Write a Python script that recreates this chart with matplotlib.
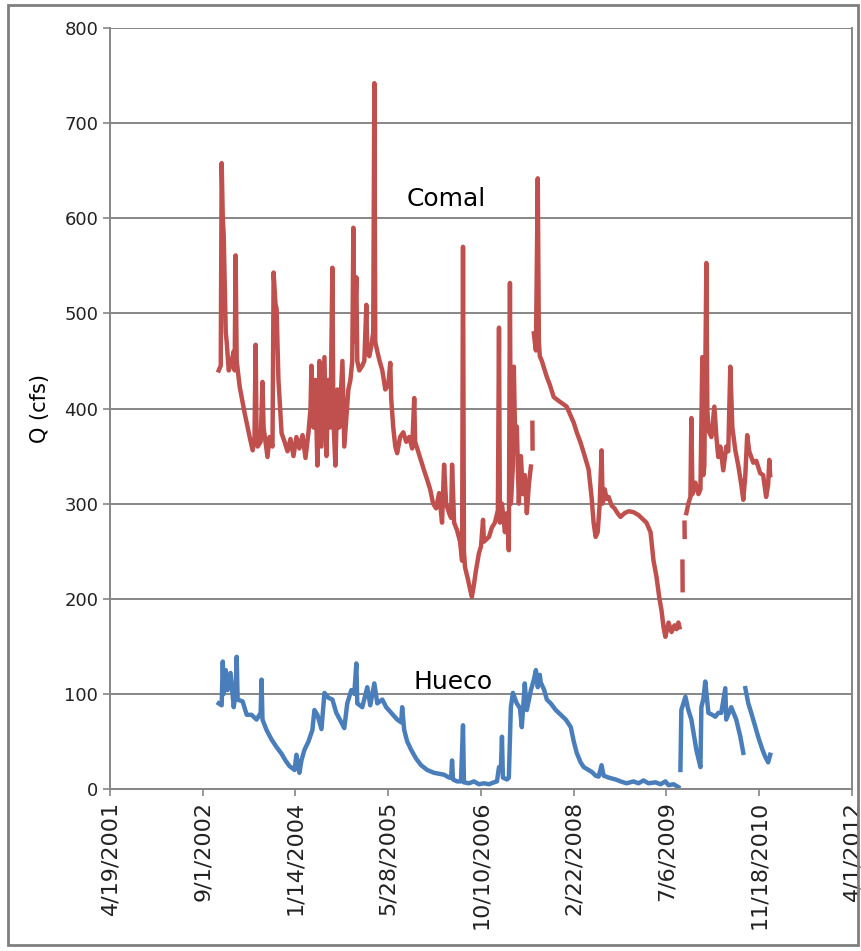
import numpy as np
import pandas as pd
import matplotlib
matplotlib.use("Agg")
import matplotlib.pyplot as plt
from matplotlib.patches import Rectangle

# dates are Excel serial day numbers (37000 = 4/19/2001), NaN marks a gap
comal_days = [
    37586, 37597, 37602, 37608, 37613, 37624, 37629, 37640, 37650, 37667,
    37672, 37677, 37683, 37699, 37726, 37753, 37769, 37779, 37785, 37790,
    37796, 37812, 37822, 37828, 37849, 37860, 37876, 37882, 37892, 37898,
    37908, 37925, 37941, 37957, 37973, 37989, 38005, 38021, 38038, 38054,
    38070, 38081, 38086, 38097, 38107, 38118, 38129, 38140, 38150, 38156,
    38167, 38177, 38188, 38199, 38204, 38215, 38226, 38236, 38253, 38263,
    38274, 38285, 38296, 38306, 38312, 38317, 38328, 38333, 38344, 38360,
    38371, 38382, 38387, 38398, 38408, 38419, 38425, 38430, 38441, 38452,
    38468, 38484, 38500, 38511, 38516, 38527, 38538, 38548, 38564, 38581,
    38597, 38613, 38629, 38640, 38645, 38661, 38677, 38693, 38710, 38726,
    38742, 38758, 38774, 38790, 38801, 38812, 38828, 38839, 38844, 38855,
    38871, 38887, 38898, 38903, 38908, 38914, 38930, 38941, 38951, 38962,
    38973, 38989, 39000, 39011, 39016, 39027, 39043, 39059, 39075, 39091,
    39097, 39102, 39113, 39129, 39140, 39150, 39156, 39161, 39172, 39177,
    39183, 39193, 39204, 39215, 39226, 39236, 39247, 39258, 39269, np.nan,
    39277, 39278, np.nan,
    39285, 39290, 39296, 39306, 39312, 39317, 39328, 39355, 39371, 39392,
    39419, 39441, 39462, 39484, 39500, 39516, 39537, 39559, 39580, 39597,
    39607, 39618, 39629, 39640, 39650, 39656, 39667, 39677, 39688, 39704,
    39720, 39736, 39752, 39774, 39796, 39822, 39849, 39876, 39892, 39914,
    39930, 39946, 39962, 39973, 39984, 39994, 40011, 40027, 40043, 40054,
    40064, 40070, np.nan,
    40086, 40087, np.nan,
    40097, 40098, np.nan,
    40107, 40118, 40129, 40134, 40140, 40156, 40172, 40183, 40193, 40199,
    40204, 40215, 40220, 40226, 40242, 40258, 40269, 40279, 40290, 40306,
    40322, 40333, 40344, 40355, 40371, 40387, 40403, 40414, 40425, 40435,
    40446, 40468, 40484, 40505, 40521, 40537, 40548, 40554, 40559,
]
comal_q = [
    440, 445, 658, 600, 582, 480, 470, 440, 445, 460,
    440, 561, 450, 423, 395, 370, 356, 370, 467, 375,
    360, 365, 428, 380, 349, 370, 360, 543, 510, 505,
    430, 374, 365, 355, 368, 350, 370, 358, 372, 348,
    375, 400, 445, 380, 430, 340, 450, 360, 420, 454,
    350, 430, 380, 548, 390, 340, 420, 380, 450, 360,
    390, 420, 430, 450, 590, 470, 538, 450, 440, 445,
    450, 509, 460, 455, 465, 480, 742, 470, 460, 451,
    440, 420, 425, 448, 410, 380, 360, 353, 370, 375,
    365, 370, 358, 411, 365, 355, 345, 335, 325, 315,
    300, 295, 311, 280, 341, 300, 290, 285, 341, 280,
    272, 260, 240, 570, 250, 233, 220, 210, 202, 215,
    230, 248, 255, 283, 260, 262, 265, 275, 280, 293,
    485, 280, 300, 270, 290, 251, 532, 300, 340, 444,
    380, 381, 300, 350, 310, 330, 290, 320, 339, np.nan,
    385, 358, np.nan,
    479, 470, 461, 642, 470, 455, 450, 433, 425, 412,
    408, 405, 402, 392, 385, 375, 364, 350, 336, 305,
    280, 265, 270, 300, 356, 300, 315, 305, 307, 298,
    295, 290, 286, 290, 292, 291, 288, 283, 280, 270,
    240, 223, 200, 188, 170, 160, 175, 165, 172, 168,
    175, 170, np.nan,
    239, 209, np.nan,
    280, 265, np.nan,
    290, 300, 307, 390, 310, 322, 310, 315, 454, 330,
    340, 553, 400, 377, 370, 402, 370, 349, 360, 335,
    360, 355, 444, 380, 356, 340, 320, 304, 330, 372,
    355, 343, 345, 332, 330, 307, 320, 346, 330,
]

hueco_days = [
    37586, 37602, 37608, 37613, 37624, 37634, 37650, 37667, 37677, 37683,
    37688, 37715, 37737, 37763, 37790, 37812, 37817, 37822, 37844, 37871,
    37898, 37925, 37946, 37968, 37995, 38005, 38021, 38032, 38048, 38070,
    38091, 38102, 38118, 38140, 38156, 38177, 38199, 38220, 38242, 38263,
    38279, 38301, 38317, 38328, 38333, 38360, 38387, 38403, 38425, 38441,
    38468, 38489, 38516, 38548, 38570, 38575, 38586, 38602, 38624, 38650,
    38677, 38710, 38747, 38774, 38801, 38828, 38839, 38844, 38849, 38871,
    38892, 38903, 38908, 38935, 38962, 38989, 39016, 39043, 39070, 39086,
    39097, 39107, 39113, 39118, 39140, 39150, 39161, 39172, 39183, 39193,
    39210, 39220, 39236, 39247, 39269, 39285, 39296, 39306, 39317, 39322,
    39339, 39355, 39376, 39403, 39430, 39457, 39484, 39500, 39516, 39537,
    39554, 39580, 39597, 39618, 39634, 39650, 39661, 39688, 39726, 39752,
    39785, 39822, 39849, 39876, 39903, 39941, 39968, 39994, 40011, 40038,
    40064, np.nan,
    40075, 40080, 40102, 40118, 40134, 40161, 40183, 40188, 40199, 40209,
    40226, 40247, 40263, 40279, 40295, 40317, 40322, 40349, 40376, 40398,
    40414, np.nan,
    40425, 40441, 40457, 40478, 40494, 40516, 40532, 40548, 40559,
]
hueco_q = [
    90, 88, 134, 100, 125, 104, 122, 86, 100, 139,
    94, 92, 78, 78, 73, 80, 115, 73, 62, 52,
    44, 37, 30, 24, 20, 36, 17, 30, 41, 50,
    62, 83, 78, 63, 101, 96, 94, 80, 72, 64,
    90, 104, 100, 132, 90, 86, 107, 88, 111, 90,
    94, 86, 80, 73, 70, 86, 62, 50, 41, 32,
    25, 20, 17, 16, 15, 12, 12, 30, 10, 8,
    8, 67, 7, 6, 8, 5, 6, 5, 7, 8,
    23, 20, 55, 12, 10, 12, 86, 101, 95, 90,
    85, 65, 111, 83, 104, 115, 125, 107, 120, 112,
    105, 94, 90, 83, 78, 73, 65, 50, 38, 28,
    23, 20, 18, 14, 13, 25, 14, 12, 10, 8,
    6, 8, 6, 9, 6, 7, 5, 8, 4, 5,
    2, np.nan,
    20, 83, 97, 83, 73, 41, 23, 86, 95, 113,
    80, 78, 76, 80, 80, 106, 73, 86, 73, 55,
    38, np.nan,
    106, 90, 80, 66, 55, 42, 34, 28, 36,
]

tick_days = [37000, 37500, 38000, 38500, 39000, 39500, 40000, 40500, 41000]


def to_dates(days):
    return pd.to_datetime(pd.Series(days, dtype=float), unit="D", origin="1899-12-30")


grid_col = "#868686"
red = "#C0504D"
blue = "#4A7EBB"

fig = plt.figure(figsize=(8.62, 9.51), dpi=100)
ax = fig.add_axes([110 / 862, 1 - 789 / 951, 742 / 862, 761 / 951])

ax.plot(to_dates(comal_days), comal_q, color=red, lw=3.2, solid_joinstyle="round")
ax.plot(to_dates(hueco_days), hueco_q, color=blue, lw=3.2, solid_joinstyle="round")

ticks = to_dates(tick_days)
ax.set_xlim(ticks.iloc[0], ticks.iloc[-1])
ax.set_xticks(ticks)
ax.set_xticklabels([f"{d.month}/{d.day}/{d.year}" for d in ticks], rotation=90,
                   fontsize=16, color="#222222")
ax.set_ylim(0, 800)
ax.set_yticks(range(0, 801, 100))
ax.tick_params(axis="y", labelsize=13)
ax.tick_params(colors=grid_col, length=5, width=1.2)
ax.tick_params(axis="both", labelcolor="#222222")
ax.yaxis.grid(True, color=grid_col, lw=1.4)
ax.set_axisbelow(True)
for s in ax.spines.values():
    s.set_color(grid_col)
    s.set_linewidth(1.4)
ax.spines["top"].set_visible(False)

ax.set_ylabel("Q (cfs)", fontsize=15, labelpad=10)

ax.text(pd.Timestamp("2006-04-05"), 620, "Comal", fontsize=18, ha="center", va="center")
ax.text(pd.Timestamp("2006-05-12"), 113, "Hueco", fontsize=18, ha="center", va="center")

fig.patches.append(Rectangle((8 / 862, 6 / 951), 850 / 862, 940 / 951,
                             transform=fig.transFigure, fill=False,
                             edgecolor="#7f7f7f", lw=2))

fig.savefig("out.png", dpi=100)
